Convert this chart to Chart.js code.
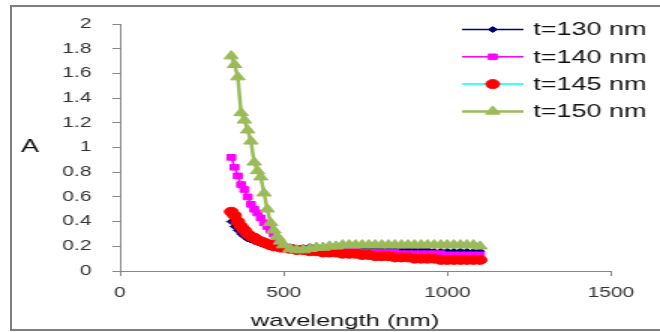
<!DOCTYPE html>
<html>
<head>
<meta charset="utf-8">
<title>Absorbance vs wavelength</title>
<script src="https://cdn.jsdelivr.net/npm/chart.js@4/dist/chart.umd.min.js"></script>
<style>
  html, body { margin: 0; padding: 0; background: #fff; }
  #wrap { position: relative; width: 660px; height: 332px; overflow: hidden; }
  #chart { position: absolute; left: 0; top: 0; }
  #frame {
    position: absolute; left: 10px; top: 5px; width: 660px; height: 326px;
    border: 2px solid #7f7f7f; border-right: none; box-sizing: border-box;
    pointer-events: none;
  }
</style>
</head>
<body>
<div id="wrap">
  <!-- drawn at 440 wide and stretched to 660, like the original picture -->
  <canvas id="chart" width="440" height="332" style="width:660px;height:332px"></canvas>
  <div id="frame"></div>
</div>
<script>
// Data (wavelength in nm, absorbance A)
const wavelengths = [340, 350, 360, 370, 380, 390, 400, 410, 420, 430, 440, 450, 460, 470, 480, 490, 500,
    520, 540, 560, 580, 600, 620, 640, 660, 680, 700, 720, 740, 760, 780, 800,
    820, 840, 860, 880, 900, 920, 940, 960, 980, 1000, 1020, 1040, 1060, 1080, 1100];

const t130 = [0.40, 0.36, 0.33, 0.30, 0.28, 0.26, 0.25, 0.24, 0.23, 0.22, 0.21, 0.20, 0.20, 0.19, 0.19, 0.18, 0.18,
    0.18, 0.18, 0.19, 0.20, 0.20, 0.19, 0.19, 0.19, 0.18, 0.18,
    0.18, 0.18, 0.18, 0.18, 0.17, 0.17, 0.17, 0.17, 0.17, 0.17,
    0.17, 0.17, 0.16, 0.16, 0.16, 0.16, 0.16, 0.16, 0.16, 0.16];

const t140 = [0.92, 0.84, 0.77, 0.70, 0.66, 0.60, 0.54, 0.50, 0.47, 0.43, 0.39, 0.36, 0.33, 0.30, 0.26, 0.23, 0.20,
    0.19, 0.18, 0.18, 0.17, 0.17, 0.17, 0.16, 0.16, 0.16, 0.16,
    0.16, 0.15, 0.15, 0.15, 0.15, 0.15, 0.15, 0.14, 0.14, 0.14,
    0.14, 0.14, 0.14, 0.14, 0.13, 0.13, 0.13, 0.13, 0.13, 0.13];

const t145 = [0.48, 0.45, 0.40, 0.36, 0.33, 0.30, 0.28, 0.27, 0.25, 0.24, 0.23, 0.22, 0.21, 0.20, 0.20, 0.19, 0.19,
    0.18, 0.17, 0.17, 0.16, 0.16, 0.15, 0.15, 0.15, 0.14, 0.14,
    0.14, 0.13, 0.13, 0.12, 0.12, 0.12, 0.11, 0.11, 0.11, 0.10,
    0.10, 0.10, 0.10, 0.09, 0.09, 0.09, 0.09, 0.09, 0.09, 0.09];

const t150 = [1.74, 1.67, 1.57, 1.28, 1.22, 1.14, 1.05, 0.88, 0.81, 0.76, 0.63, 0.50, 0.39, 0.33, 0.28, 0.24, 0.21,
    0.18, 0.17, 0.17, 0.18, 0.19, 0.19, 0.20, 0.20, 0.21, 0.21,
    0.21, 0.21, 0.21, 0.21, 0.21, 0.21, 0.21, 0.21, 0.21, 0.21,
    0.21, 0.21, 0.21, 0.21, 0.21, 0.21, 0.21, 0.21, 0.21, 0.20];

const seriesLabels = ['t=130 nm', 't=140 nm', 't=145 nm', 't=150 nm'];
const xTicks = [0, 500, 1000, 1500];
const yTicks = [0, 0.2, 0.4, 0.6, 0.8, 1, 1.2, 1.4, 1.6, 1.8, 2];
const xTitle = 'wavelength (nm)';
const yTitle = 'A';

const FONT = '"Liberation Sans", Arial, sans-serif';

function toPoints(values) {
    return wavelengths.map((w, i) => ({ x: w, y: values[i] }));
}

function makeSeries(label, values, line, fill, style, radius, width, order) {
    return {
        label: label,
        data: toPoints(values),
        showLine: true,
        borderColor: line,
        borderWidth: width,
        pointStyle: style,
        pointRadius: radius,
        pointBackgroundColor: fill,
        pointBorderColor: fill,
        pointBorderWidth: 1,
        order: order
    };
}

// Legend and axis titles are placed by hand (legend sits inside the plot, "A" is upright)
const overlay = {
    id: 'overlay',
    afterDatasetsDraw(chart) {
        const ctx = chart.ctx;
        ctx.save();
        ctx.textBaseline = 'middle';
        ctx.fillStyle = '#111';

        ctx.textAlign = 'center';
        ctx.font = '17px ' + FONT;
        ctx.fillText(xTitle, 230, 321);
        ctx.font = '18px ' + FONT;
        ctx.fillText(yTitle, 20, 147);

        ctx.textAlign = 'left';
        chart.data.datasets.forEach(function(ds, i) {
            const y = 29.5 + i * 27.3;
            ctx.strokeStyle = ds.borderColor;
            ctx.lineWidth = ds.borderWidth;
            ctx.beginPath();
            ctx.moveTo(308, y);
            ctx.lineTo(349, y);
            ctx.stroke();

            ctx.fillStyle = ds.pointBackgroundColor;
            ctx.strokeStyle = ds.pointBorderColor;
            ctx.lineWidth = 1;
            Chart.helpers.drawPoint(ctx, {
                pointStyle: ds.pointStyle, radius: ds.pointRadius, borderWidth: 1, rotation: 0
            }, 328.5, y);

            ctx.fillStyle = '#111';
            ctx.font = '18px ' + FONT;
            ctx.fillText(ds.label, 355.5, y + 1);
        });
        ctx.restore();
    }
};

const ctx = document.getElementById('chart').getContext('2d');
new Chart(ctx, {
    type: 'scatter',
    data: {
        datasets: [
            makeSeries(seriesLabels[0], t130, '#000080', '#000080', 'rectRot', 3, 1.5, 3),
            makeSeries(seriesLabels[1], t140, '#FF00FF', '#FF00FF', 'rect', 4, 1.5, 2),
            makeSeries(seriesLabels[2], t145, '#00FFFF', '#FF0000', 'circle', 4.5, 1.5, 1),
            makeSeries(seriesLabels[3], t150, '#9BBB59', '#9BBB59', 'triangle', 5.5, 2.5, 0)
        ]
    },
    options: {
        responsive: false,
        animation: false,
        layout: { padding: { left: 0, right: 32.7, top: 24, bottom: 0 } },
        plugins: {
            legend: { display: false },
            tooltip: { enabled: false }
        },
        scales: {
            x: {
                type: 'linear',
                min: 0,
                max: 1500,
                afterBuildTicks: function(scale) { scale.ticks = xTicks.map(v => ({ value: v })); },
                afterFit: function(scale) { scale.height = 61; },
                grid: { drawOnChartArea: false, drawTicks: true, tickLength: 5, color: '#868686' },
                border: { color: '#868686', width: 1 },
                ticks: {
                    padding: 9,
                    color: '#333',
                    font: { family: FONT, size: 14 },
                    callback: function(value) { return String(value); }
                }
            },
            y: {
                type: 'linear',
                min: 0,
                max: 2,
                afterBuildTicks: function(scale) { scale.ticks = yTicks.map(v => ({ value: v })); },
                afterFit: function(scale) { scale.width = 80; },
                grid: { drawOnChartArea: false, drawTicks: true, tickLength: 5, color: '#868686' },
                border: { color: '#868686', width: 1 },
                ticks: {
                    padding: 14,
                    color: '#333',
                    font: { family: FONT, size: 14 },
                    callback: function(value) { return String(value); }
                }
            }
        }
    },
    plugins: [overlay]
});
</script>
</body>
</html>
